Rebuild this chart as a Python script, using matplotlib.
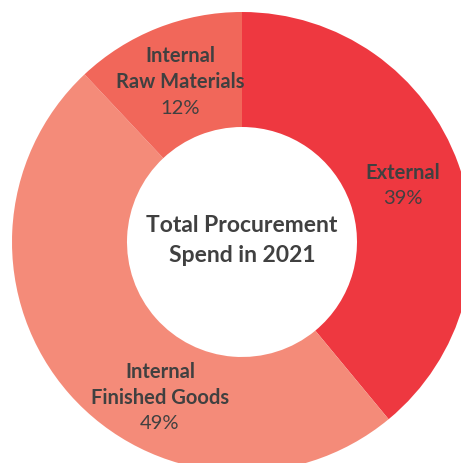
import matplotlib.pyplot as plt
import numpy as np

# data
labels = ['External', 'Internal\nFinished Goods', 'Internal\nRaw Materials']
shares = [39, 49, 12]
colors = ['#EE3840', '#F48B79', '#F1675A']
center_text = ['Total Procurement', 'Spend in 2021']

# label block centres (angle in degrees, radius as fraction of outer radius)
label_pos = [(19.5, 0.743), (242.1, 0.762), (111.1, 0.75)]

plt.rcParams['font.family'] = ['Lato', 'DejaVu Sans']

fig = plt.figure(figsize=(4.61, 4.64), dpi=100)
ax = fig.add_axes([0, 0, 1, 1])

R = 230.0  # outer radius in pixels
wedges, _ = ax.pie(shares, colors=colors, startangle=90, counterclock=False,
                   radius=1.0, wedgeprops=dict(width=0.5, linewidth=0))

ax.set_aspect('equal')
ax.set_xlim(-242 / R, 219 / R)
ax.set_ylim(-221 / R, 243 / R)
ax.axis('off')

step = 26 / R  # line spacing of the slice labels
for lab, pct, (ang, r) in zip(labels, shares, label_pos):
    x = r * np.cos(np.radians(ang))
    y = r * np.sin(np.radians(ang))
    lines = lab.split('\n') + [f'{pct}%']
    n = len(lines)
    for i, line in enumerate(lines):
        yy = y + ((n - 1) / 2 - i) * step
        bold = i < n - 1
        ax.text(x, yy, line, ha='center', va='center', fontsize=14.5,
                fontweight='bold' if bold else 'normal', color='#404040')

step_c = 30 / R
for i, line in enumerate(center_text):
    ax.text(0, 0.078 - i * step_c + 0.5 * step_c - 0.065, line, ha='center',
            va='center', fontsize=16.5, fontweight='bold', color='#404040')

fig.savefig('out.png', dpi=100)
